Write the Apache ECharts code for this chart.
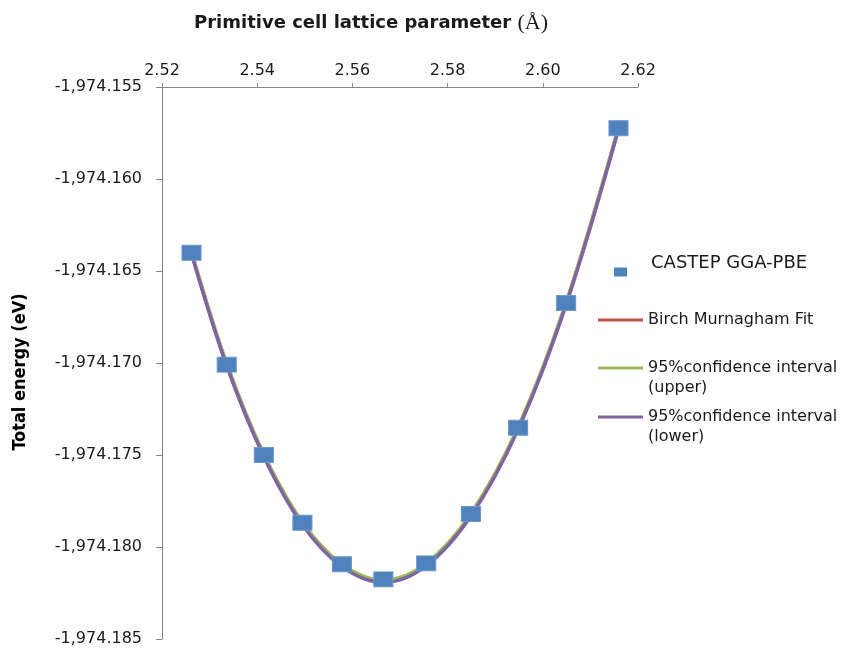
<!DOCTYPE html>
<html>
<head>
<meta charset="utf-8">
<script src="https://cdn.jsdelivr.net/npm/echarts@6/dist/echarts.min.js"></script>
<style>
html,body{margin:0;padding:0;background:#fff;}
#chart{width:845px;height:652px;}
</style>
</head>
<body>
<div id="chart"></div>
<script>
// Lattice parameter (Å) of the CASTEP points
var latticeX = [2.5262, 2.5336, 2.5414, 2.5495, 2.5578, 2.5665, 2.5755, 2.5849, 2.5948, 2.6049, 2.6159];
// Total energy (eV) of the CASTEP points
var castepE = [-1974.16401, -1974.17009, -1974.17500, -1974.17868, -1974.18094, -1974.18176, -1974.18089, -1974.17821, -1974.17352, -1974.16674, -1974.15724];
// Curves (read at the same lattice values)
var fitE   = [-1974.16401, -1974.17009, -1974.17502, -1974.17872, -1974.18100, -1974.18186, -1974.18096, -1974.17825, -1974.17355, -1974.16676, -1974.15724];
var upperE = [-1974.16395, -1974.17002, -1974.17495, -1974.17865, -1974.18093, -1974.18180, -1974.18089, -1974.17818, -1974.17348, -1974.16669, -1974.15717];
var lowerE = [-1974.16407, -1974.17016, -1974.17509, -1974.17879, -1974.18107, -1974.18193, -1974.18103, -1974.17832, -1974.17362, -1974.16683, -1974.15731];
var seriesNames = ['CASTEP GGA-PBE', 'Birch Murnagham Fit', '95%confidence interval\n(upper)', '95%confidence interval\n(lower)'];
var xTicks = {min: 2.52, max: 2.62, interval: 0.02};
var yTicks = {min: -1974.185, max: -1974.155, interval: 0.005};

function zip(xs, ys) { return xs.map(function (x, i) { return [x, ys[i]]; }); }

var FONT = 'DejaVu Sans';
var chart = echarts.init(document.getElementById('chart'), null, {renderer: 'canvas'});
var lineLegendText = {fontFamily: FONT, fontSize: 16, color: '#1a1a1a', lineHeight: 20};

chart.setOption({
  backgroundColor: '#ffffff',
  animation: false,
  title: {
    text: 'Primitive cell lattice parameter {a|(Å)}',
    left: 371, top: 12, textAlign: 'center', padding: 0,
    textStyle: {
      fontFamily: FONT, fontWeight: 'bold', fontSize: 18, color: '#1a1a1a',
      rich: {a: {fontFamily: 'Liberation Serif', fontWeight: 'normal', fontSize: 22, color: '#1a1a1a'}}
    }
  },
  legend: [
    {data: [{name: seriesNames[0], icon: 'rect'}], left: 614, top: 254, padding: 0,
     itemWidth: 13, itemHeight: 9, orient: 'vertical', symbolKeepAspect: false,
     itemStyle: {borderWidth: 0, color: '#4F81BD'},
     formatter: function (n) { return n + '\n '; },
     textStyle: {fontFamily: FONT, fontSize: 18, lineHeight: 18, color: '#1a1a1a', padding: [0, 0, 0, 19]}},
    {data: [{name: seriesNames[1], icon: 'rect'}], left: 598, top: 310, padding: 0,
     itemWidth: 45, itemHeight: 3, orient: 'vertical', symbolKeepAspect: false, textStyle: lineLegendText},
    {data: [{name: seriesNames[2], icon: 'rect'}], left: 598, top: 338, padding: 0,
     itemWidth: 45, itemHeight: 3, orient: 'vertical', symbolKeepAspect: false,
     formatter: function (n) { return ' \n' + n; }, textStyle: lineLegendText},
    {data: [{name: seriesNames[3], icon: 'rect'}], left: 598, top: 387, padding: 0,
     itemWidth: 45, itemHeight: 3, orient: 'vertical', symbolKeepAspect: false,
     formatter: function (n) { return ' \n' + n; }, textStyle: lineLegendText}
  ],
  grid: {left: 162, right: 207, top: 87, bottom: 13, containLabel: false},
  xAxis: {
    type: 'value', position: 'top',
    min: xTicks.min, max: xTicks.max, interval: xTicks.interval,
    axisLine: {show: true, onZero: false, lineStyle: {color: '#868686', width: 1}},
    axisTick: {show: true, inside: false, length: 4, lineStyle: {color: '#868686'}},
    axisLabel: {fontFamily: FONT, fontSize: 16, color: '#1a1a1a', margin: 8,
      formatter: function (v) { return v.toFixed(2); }},
    splitLine: {show: false}
  },
  yAxis: {
    type: 'value',
    min: yTicks.min, max: yTicks.max, interval: yTicks.interval,
    name: 'Total energy (eV)', nameLocation: 'middle', nameGap: 133, nameRotate: 90,
    nameTextStyle: {fontFamily: 'DejaVu Sans Condensed', fontWeight: 'bold', fontSize: 18, color: '#000', padding: [0, 0, 0, -18]},
    axisLine: {show: true, onZero: false, lineStyle: {color: '#868686', width: 1}},
    axisTick: {show: true, inside: false, length: 6, lineStyle: {color: '#868686'}},
    axisLabel: {fontFamily: FONT, fontSize: 16, color: '#1a1a1a', margin: 20,
      formatter: function (v) {
        return Number(v).toLocaleString('en-US', {minimumFractionDigits: 3, maximumFractionDigits: 3});
      }},
    splitLine: {show: false}
  },
  series: [
    {name: seriesNames[0], type: 'scatter', data: zip(latticeX, castepE), symbol: 'rect',
     symbolSize: [19, 15], z: 5, itemStyle: {color: '#4F81BD', opacity: 1, borderColor: '#6d97cc', borderWidth: 1}},
    {name: seriesNames[1], type: 'line', data: zip(latticeX, fitE), smooth: 0.35, symbol: 'none',
     showSymbol: false, z: 2, lineStyle: {color: '#C0504D', width: 3.5}, itemStyle: {color: '#C0504D'}},
    {name: seriesNames[2], type: 'line', data: zip(latticeX, upperE), smooth: 0.35, symbol: 'none',
     showSymbol: false, z: 2, lineStyle: {color: '#9BBB59', width: 3.5}, itemStyle: {color: '#9BBB59'}},
    {name: seriesNames[3], type: 'line', data: zip(latticeX, lowerE), smooth: 0.35, symbol: 'none',
     showSymbol: false, z: 2, lineStyle: {color: '#8064A2', width: 3.5}, itemStyle: {color: '#8064A2'}}
  ]
});
</script>
</body>
</html>
